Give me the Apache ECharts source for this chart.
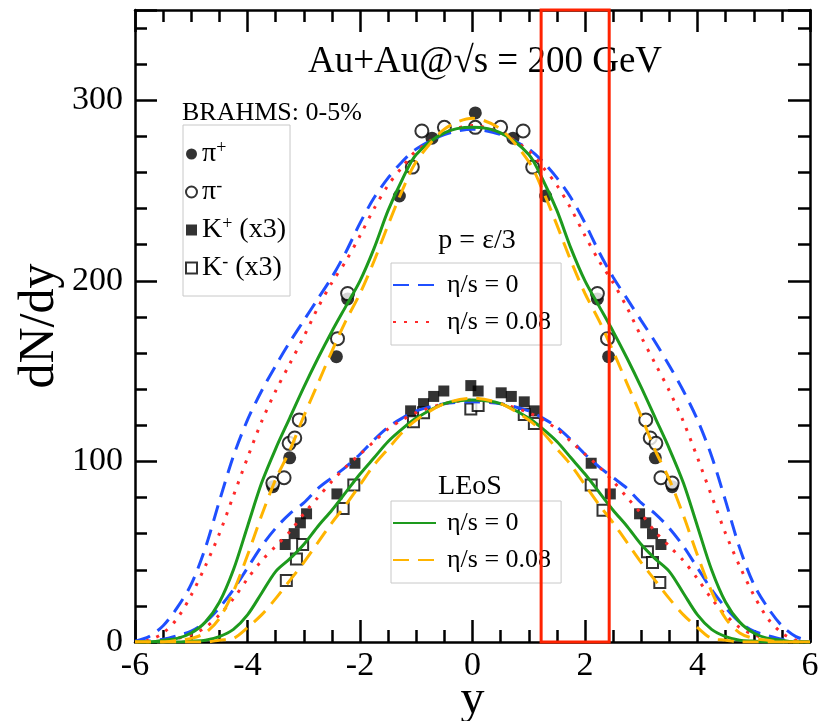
<!DOCTYPE html>
<html>
<head>
<meta charset="utf-8">
<script src="https://cdn.jsdelivr.net/npm/echarts@6/dist/echarts.min.js"></script>
<style>
  html, body { margin: 0; padding: 0; background: #fff; }
  #chart { width: 823px; height: 721px; }
</style>
</head>
<body>
<div id="chart"></div>
<script>
// Rapidity grid shared by all hydro curves
const rapidity = [-6,-5.75,-5.5,-5.25,-5,-4.75,-4.5,-4.25,-4,-3.75,-3.5,-3.25,-3,-2.75,-2.5,-2.25,-2,-1.75,-1.5,-1.25,-1,-0.5,0,
                  0.5,1,1.25,1.5,1.75,2,2.25,2.5,2.75,3,3.25,3.5,3.75,4,4.25,4.5,4.75,5,5.25,5.5,5.75,6];

// Pion dN/dy, ideal-gas EoS (p = e/3)
const pionIdeal      = [0.5,3,9,19,32,52,78,103,123,139,153,166,178,190,202,216,232,246,257,266,273,281,284,
                        281,273,266,257,246,232,216,202,190,178,166,153,139,123,103,78,52,32,19,9,3,0.5];
const pionIdealVisc  = [0,1,5,13,26,42,60,81,102,122,139,154,169,185,199,211,225,240,253,263,272,282,286,
                        282,272,263,253,240,225,211,199,185,169,154,139,122,102,81,60,42,26,13,5,1,0];
// Pion dN/dy, lattice EoS
const pionLeos       = [0,0,1,2,5,11,22,40,64,88,107,124,141,157,172,186,200,218,239,256,270,282,285,
                        282,270,256,239,218,200,186,172,157,141,124,107,88,64,40,22,11,5,2,1,0,0];
const pionLeosVisc   = [0,0,0,1,2,5,13,28,48,70,90,106,125,143,161,178,193,211,231,250,266,284,290,
                        284,266,250,231,211,193,178,161,143,125,106,90,70,48,28,13,5,2,1,0,0,0];
// Kaon dN/dy (x3), ideal-gas EoS
const kaonIdeal      = [0,0.5,1.5,3.5,6,11,19,29,41,53,63,71,77,85,91,97,104,112,119,124,128,132,133,
                        132,128,124,119,112,104,97,91,85,77,71,63,53,41,29,19,11,6,3.5,1.5,0.5,0];
const kaonIdealVisc  = [0,0,0.5,2,4,8,15,24,35,45,53,61,71,80,89,97,104,111,118,123,127,132,134,
                        132,127,123,118,111,104,97,89,80,71,61,53,45,35,24,15,8,4,2,0.5,0,0];
// Kaon dN/dy (x3), lattice EoS
const kaonLeos       = [0,0,0,0,0.5,1,3,7,15,27,39,46,54,64,73,83,93,102,111,118,124,132,134,
                        132,124,118,111,102,93,83,73,64,54,46,39,27,15,7,3,1,0.5,0,0,0,0];
const kaonLeosVisc   = [0,0,0,0,0,0,1,2,8,15,24,34,44,55,66,76,87,98,107,116,123,132,135,
                        132,123,116,107,98,87,76,66,55,44,34,24,15,8,2,1,0,0,0,0,0,0];

// BRAHMS 0-5% measurements [y, dN/dy]
const piPlus  = [[-3.55,86],[-3.25,102],[-2.42,158],[-2.22,190],[-1.3,247],[-0.72,279],[0.05,293],
                 [0.72,279],[1.3,247],[2.22,190],[2.42,158],[3.25,102],[3.55,86]];
const piMinus = [[-3.55,88],[-3.35,91],[-3.26,110],[-3.16,113],[-3.08,123],[-2.4,168],[-2.22,193],
                 [-1.07,263],[-0.9,283],[-0.5,285],[0.05,285],[0.5,285],[0.9,283],[1.07,263],
                 [2.22,193],[2.4,168],[3.08,123],[3.16,113],[3.26,110],[3.35,91],[3.55,88]];
const kPlus   = [[-3.33,54],[-3.17,60],[-3.06,66],[-2.95,71],[-2.41,82],[-2.09,99],[-1.1,128],
                 [-0.87,132],[-0.69,136],[-0.51,139],[-0.03,142],[0.1,139],[0.51,138],[0.69,136],
                 [0.92,133],[1.1,128],[2.11,99],[2.45,82],[2.97,71],[3.08,66],[3.2,60],[3.35,54]];
const kMinus  = [[-3.31,34],[-3.13,46],[-3.02,54],[-2.3,74],[-2.11,87],[-1.05,122],[-0.87,127],
                 [-0.03,129],[0.1,131],[0.92,126],[1.1,121],[2.11,87],[2.32,73],[3.11,50],[3.2,44],[3.33,33]];

// Highlighted rapidity window
const highlightRange = [1.22, 2.43];

// Axis ticks
const xTicks = { min: -6, max: 6, interval: 2, minorSplit: 4 };
const yTicks = { min: 0, max: 350, interval: 100, minorSplit: 5 };

const FONT = 'Liberation Serif';
const BLUE = '#1f4fff', RED = '#ff2a2a', GREEN = '#1d9a1d', ORANGE = '#ffb400';

function pairs(ys) { return rapidity.map((x, i) => [x, ys[i]]); }

function curve(name, ys, color, type) {
  return {
    type: 'line', name: name, data: pairs(ys), smooth: 0.3, symbol: 'none', z: 3,
    lineStyle: { color: color, width: 3, type: type, cap: 'butt' },
    itemStyle: { color: color }
  };
}

function points(name, data, symbol, size, filled) {
  return {
    type: 'scatter', name: name, data: data, symbol: symbol, symbolSize: size, z: 2,
    itemStyle: filled ? { color: '#000', borderColor: '#000', borderWidth: 0 }
                      : { color: '#fff', borderColor: '#000', borderWidth: 2 }
  };
}

const DASH = [16, 9];
const DOT = [3, 8];

const nameIdeal0 = 'p=ε/3: η/s = 0', nameIdeal8 = 'p=ε/3: η/s = 0.08';
const nameLeos0 = 'LEoS: η/s = 0', nameLeos8 = 'LEoS: η/s = 0.08';

const series = [
  points('π+', piPlus, 'circle', 13, true),
  points('π-', piMinus, 'circle', 13, false),
  points('K+ (x3)', kPlus, 'rect', 11, true),
  points('K- (x3)', kMinus, 'rect', 11, false),
  curve(nameIdeal0, pionIdeal, BLUE, DASH),
  curve(nameIdeal0, kaonIdeal, BLUE, DASH),
  curve(nameIdeal8, pionIdealVisc, RED, DOT),
  curve(nameIdeal8, kaonIdealVisc, RED, DOT),
  curve(nameLeos0, pionLeos, GREEN, 'solid'),
  curve(nameLeos0, kaonLeos, GREEN, 'solid'),
  curve(nameLeos8, pionLeosVisc, ORANGE, DASH),
  curve(nameLeos8, kaonLeosVisc, ORANGE, DASH)
];
// Red outline marking the rapidity window
series[series.length - 1].markArea = {
  silent: true, z: 10,
  itemStyle: { color: 'rgba(0,0,0,0)', borderColor: '#ff2200', borderWidth: 3 },
  data: [[{ xAxis: highlightRange[0] }, { xAxis: highlightRange[1] }]]
};

const axisLineStyle = { color: '#000', width: 2.5 };
function xAxisDef(pos, labels) {
  return {
    type: 'value', position: pos, min: xTicks.min, max: xTicks.max, interval: xTicks.interval,
    axisLine: { onZero: false, lineStyle: axisLineStyle },
    axisTick: { inside: true, length: 22, lineStyle: axisLineStyle },
    minorTick: { show: true, splitNumber: xTicks.minorSplit, length: 12, lineStyle: axisLineStyle },
    splitLine: { show: false },
    axisLabel: { show: labels, fontFamily: FONT, fontSize: 34, color: '#000', margin: 7 },
    name: labels ? 'y' : '', nameLocation: 'middle', nameGap: 34, nameMoveOverlap: false,
    nameTextStyle: { fontFamily: FONT, fontSize: 48, color: '#000' }
  };
}
function yAxisDef(pos, labels) {
  return {
    type: 'value', position: pos, min: yTicks.min, max: yTicks.max, interval: yTicks.interval,
    axisLine: { onZero: false, lineStyle: axisLineStyle },
    axisTick: { inside: true, length: 22, lineStyle: axisLineStyle },
    minorTick: { show: true, splitNumber: yTicks.minorSplit, length: 12, lineStyle: axisLineStyle },
    splitLine: { show: false },
    axisLabel: { show: labels, showMaxLabel: false, fontFamily: FONT, fontSize: 34, color: '#000', margin: 12 },
    name: labels ? 'dN/dy' : '', nameLocation: 'middle', nameRotate: 90, nameGap: 70, nameMoveOverlap: false,
    nameTextStyle: { fontFamily: FONT, fontSize: 50, color: '#000' }
  };
}

const dataLabels = {
  'π+': '{m|π}{s|+}', 'π-': '{m|π}{s|-}',
  'K+ (x3)': '{m|K}{s|+}{m| (x3)}', 'K- (x3)': '{m|K}{s|-}{m| (x3)}'
};
const richText = {
  m: { fontFamily: FONT, fontSize: 28, color: '#000' },
  s: { fontFamily: FONT, fontSize: 18, color: '#000', verticalAlign: 'top', padding: [0, 0, 12, 0] }
};

const hiddenSymbol = { color: 'rgba(0,0,0,0)', borderColor: 'rgba(0,0,0,0)', borderWidth: 0, opacity: 0 };
function modelLegend(top, names) {
  return {
    left: 391, top: top, orient: 'vertical', selectedMode: false,
    padding: [9, 10, 10, 1], itemGap: 11, itemWidth: 43, itemHeight: 14,
    borderColor: '#c8c8c8', borderWidth: 1,
    itemStyle: hiddenSymbol,
    data: names, formatter: n => n.split(': ')[1],
    textStyle: { fontFamily: FONT, fontSize: 26, color: '#000', padding: [0, 0, 0, 6] }
  };
}

const chart = echarts.init(document.getElementById('chart'), null, { renderer: 'canvas' });
chart.setOption({
  animation: false,
  backgroundColor: '#fff',
  grid: { left: 135, right: 13, top: 10, bottom: 79, containLabel: false, outerBoundsMode: 'none' },
  xAxis: [xAxisDef('bottom', true), xAxisDef('top', false)],
  yAxis: [yAxisDef('left', true), yAxisDef('right', false)],
  legend: [
    {
      left: 183, top: 125, orient: 'vertical', selectedMode: false,
      padding: [14, 4, 14, 2], itemGap: 9, itemWidth: 11, itemHeight: 11,
      borderColor: '#c8c8c8', borderWidth: 1,
      data: [
        { name: 'π+', icon: 'circle' }, { name: 'π-', icon: 'circle' },
        { name: 'K+ (x3)', icon: 'rect' }, { name: 'K- (x3)', icon: 'rect' }
      ],
      formatter: n => dataLabels[n],
      textStyle: { fontFamily: FONT, fontSize: 28, color: '#000', rich: richText }
    },
    modelLegend(263, [nameIdeal0, nameIdeal8]),
    modelLegend(501, [nameLeos0, nameLeos8])
  ],
  graphic: [
    { type: 'text', x: 308, y: 62, style: { text: 'Au+Au@√s = 200 GeV', font: '37px "Liberation Serif"', fill: '#000', verticalAlign: 'middle', align: 'left' } },
    { type: 'text', x: 182, y: 113, style: { text: 'BRAHMS: 0-5%', font: '26px "Liberation Serif"', fill: '#000', verticalAlign: 'middle', align: 'left' } },
    { type: 'text', x: 477, y: 241, style: { text: 'p = ε/3', font: '28px "Liberation Serif"', fill: '#000', verticalAlign: 'middle', align: 'center' } },
    { type: 'text', x: 470, y: 487, style: { text: 'LEoS', font: '28px "Liberation Serif"', fill: '#000', verticalAlign: 'middle', align: 'center' } }
  ],
  series: series
});
</script>
</body>
</html>
